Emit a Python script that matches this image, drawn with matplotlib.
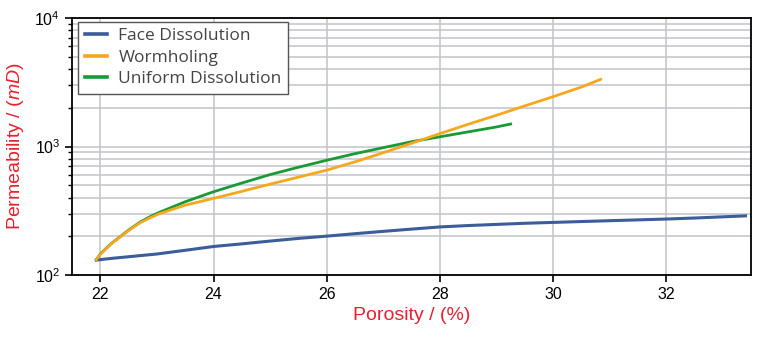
import numpy as np
import matplotlib.pyplot as plt
from matplotlib.ticker import LogLocator, NullFormatter

# values
face_x = [21.93, 22.2, 22.5, 23.0, 23.5, 24.0, 24.5, 25.0, 25.5, 26.0, 26.5, 27.0,
          27.5, 28.0, 28.5, 29.0, 29.5, 30.0, 30.5, 31.0, 31.5, 32.0, 32.5, 33.0, 33.4]
face_y = [131, 135, 139, 146, 156, 167, 175, 184, 193, 201, 210, 219,
          228, 237, 243, 248, 253, 257, 261, 265, 269, 273, 278, 284, 289]

worm_x = [21.93, 22.0, 22.1, 22.2, 22.35, 22.5, 22.7, 22.9, 23.06, 23.5, 24.0, 24.5,
          25.0, 25.5, 26.0, 26.5, 27.0, 27.5, 28.0, 28.5, 29.0, 29.5, 30.0, 30.5, 30.84]
worm_y = [132, 145, 160, 176, 198, 222, 255, 282, 302, 350, 395, 448,
          510, 578, 655, 760, 895, 1060, 1260, 1490, 1750, 2070, 2440, 2900, 3330]

unif_x = [21.93, 22.0, 22.1, 22.2, 22.35, 22.5, 22.7, 22.9, 23.06, 23.5, 24.0, 24.5,
          25.0, 25.5, 26.0, 26.5, 27.0, 27.5, 28.0, 28.5, 29.0, 29.25]
unif_y = [132, 146, 161, 177, 199, 224, 258, 288, 310, 372, 445, 520,
          605, 690, 782, 880, 980, 1090, 1190, 1300, 1420, 1496]

red = '#e8202f'
plt.rcParams['font.family'] = ['Liberation Sans', 'DejaVu Sans']
plt.rcParams['mathtext.fontset'] = 'custom'
plt.rcParams['mathtext.it'] = 'Liberation Sans:italic'
plt.rcParams['mathtext.rm'] = 'Liberation Sans'

fig = plt.figure(figsize=(7.58, 3.38), dpi=100)
ax = fig.add_axes([0.095, 0.186, 0.896, 0.761])

ax.plot(face_x, face_y, color='#3d5c9a', lw=2.2, label='Face Dissolution')
ax.plot(worm_x, worm_y, color='#f5a81e', lw=2.0, label='Wormholing', zorder=3)
ax.plot(unif_x, unif_y, color='#1a9a36', lw=2.0, label='Uniform Dissolution', zorder=2.5)

ax.set_yscale('log')
ax.set_xlim(21.5, 33.5)
ax.set_ylim(100, 10000)
ax.set_xticks([22, 24, 26, 28, 30, 32])
ax.yaxis.set_minor_locator(LogLocator(base=10, subs=np.arange(2, 10)))
ax.yaxis.set_minor_formatter(NullFormatter())

ax.grid(True, which='major', color='#c2c4cc', lw=1.1)
ax.grid(True, which='minor', axis='y', color='#c2c4cc', lw=1.1)
ax.set_axisbelow(True)

ax.tick_params(axis='both', which='major', labelsize=11.5, direction='out', length=5,
               width=1.2, top=False, right=False)
ax.tick_params(axis='y', which='minor', direction='out', length=3, width=1.0, right=False)
for s in ax.spines.values():
    s.set_linewidth(1.3)

ax.set_xlabel('Porosity / (%)', color=red, fontsize=14, labelpad=4)
ax.set_ylabel('Permeability / ($mD$)', color=red, fontsize=14, labelpad=6)

leg = ax.legend(loc='upper left', prop={'family': 'Open Sans', 'size': 12.5},
                fancybox=False, edgecolor='#555555', framealpha=1,
                borderpad=0.38, labelspacing=0.3, handlelength=1.27,
                handletextpad=0.67, borderaxespad=0,
                bbox_to_anchor=(0.0088, 0.9856))
leg.get_frame().set_linewidth(1.0)
for line in leg.get_lines():
    line.set_linewidth(2.6)
for t in leg.get_texts():
    t.set_color('#444444')

fig.savefig('out.png', dpi=100)
